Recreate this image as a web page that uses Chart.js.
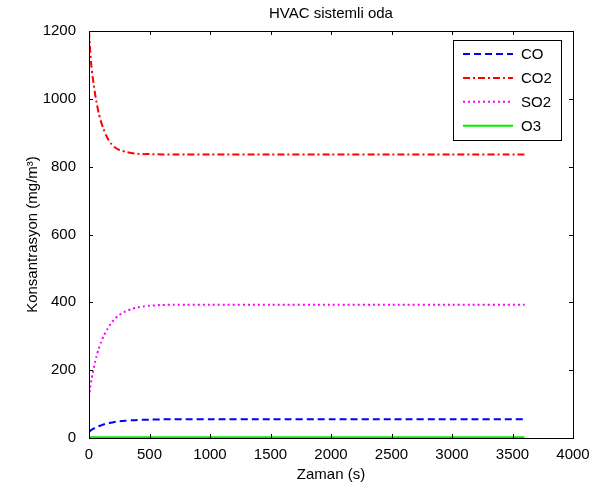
<!DOCTYPE html>
<html>
<head>
<meta charset="utf-8">
<script src="https://cdn.jsdelivr.net/npm/chart.js@4/dist/chart.umd.min.js"></script>
<style>
  html, body { margin: 0; padding: 0; background: #fff; }
  #wrap { width: 597px; height: 491px; }
</style>
</head>
<body>
<div id="wrap"><canvas id="hvac"></canvas></div>
<script>
// zaman (s)
const time = [0, 10, 20, 30, 40, 50, 60, 80, 100, 120, 150, 180, 210, 240, 270, 300, 350, 400, 450, 500, 600, 700, 800, 1000, 1500, 2000, 2500, 3000, 3600];

// konsantrasyonlar (mg/m3)
const co  = [18, 21, 24, 26, 28, 30, 32, 35, 37, 40, 43, 45, 47, 49, 50, 51, 52, 53, 54, 54, 55, 55, 55, 55, 55, 55, 55, 55, 55];
const co2 = [1200, 1140, 1095, 1065, 1040, 1015, 995, 958, 932, 911, 886, 869, 858, 851, 847, 844, 840, 838, 837, 837, 836, 836, 836, 836, 836, 836, 836, 836, 836];
const so2 = [120, 148, 170, 190, 207, 223, 238, 263, 283, 300, 320, 337, 350, 360, 367, 373, 380, 385, 388, 390, 392, 393, 393, 393, 393, 393, 393, 393, 393];
const o3  = [2, 2, 2, 2, 2, 2, 2, 2, 2, 2, 2, 2, 2, 2, 2, 2, 2, 2, 2, 2, 2, 2, 2, 2, 2, 2, 2, 2, 2];

const xTicks = [0, 500, 1000, 1500, 2000, 2500, 3000, 3500, 4000];
const yTicks = [0, 200, 400, 600, 800, 1000, 1200];

const toPoints = vals => time.map((t, i) => ({x: t, y: vals[i]}));

const series = [
  {label: "CO",  data: co,  color: "#0000ff", dash: [7, 4]},
  {label: "CO2", data: co2, color: "#ff0000", dash: [7, 3, 2, 3]},
  {label: "SO2", data: so2, color: "#ff00ff", dash: [2, 3]},
  {label: "O3",  data: o3,  color: "#00ee00", dash: []}
];

const FONT = "'Liberation Sans', Arial, sans-serif";

// kutu, iceri bakan tikler ve lejant
const matlabBox = {
  id: "matlabBox",
  afterDraw(chart) {
    const {ctx, chartArea: a, scales} = chart;
    ctx.save();
    ctx.strokeStyle = "#000";
    ctx.lineWidth = 1;
    ctx.strokeRect(a.left + 0.5, a.top + 0.5, a.right - a.left, a.bottom - a.top);
    ctx.beginPath();
    xTicks.forEach(v => {
      const px = Math.round(scales.x.getPixelForValue(v)) + 0.5;
      ctx.moveTo(px, a.bottom); ctx.lineTo(px, a.bottom - 4);
      ctx.moveTo(px, a.top); ctx.lineTo(px, a.top + 4);
    });
    yTicks.forEach(v => {
      const py = Math.round(scales.y.getPixelForValue(v)) + 0.5;
      ctx.moveTo(a.left, py); ctx.lineTo(a.left + 4, py);
      ctx.moveTo(a.right, py); ctx.lineTo(a.right - 4, py);
    });
    ctx.stroke();

    // lejant
    const lx = 453, ly = 40, lw = 108, lh = 100;
    ctx.fillStyle = "#fff";
    ctx.fillRect(lx, ly, lw, lh);
    ctx.strokeRect(lx + 0.5, ly + 0.5, lw, lh);
    ctx.font = "15px " + FONT;
    ctx.textBaseline = "middle";
    series.forEach((s, i) => {
      const y = ly + 14 + i * 23.9;
      ctx.beginPath();
      ctx.strokeStyle = s.color;
      ctx.lineWidth = 2;
      ctx.setLineDash(s.dash);
      ctx.moveTo(lx + 10, y); ctx.lineTo(lx + 60, y);
      ctx.stroke();
      ctx.setLineDash([]);
      ctx.fillStyle = "#000";
      ctx.fillText(s.label, lx + 68, y + 1);
    });
    ctx.restore();
  }
};

new Chart(document.getElementById("hvac"), {
  type: "line",
  data: {
    datasets: series.map(s => ({
      label: s.label,
      data: toPoints(s.data),
      borderColor: s.color,
      borderDash: s.dash,
      borderWidth: 2,
      pointRadius: 0,
      tension: 0.25,
      fill: false
    }))
  },
  options: {
    responsive: true,
    maintainAspectRatio: false,
    animation: false,
    layout: {padding: {left: 0, right: 24, top: 0, bottom: 0}},
    plugins: {
      legend: {display: false},
      tooltip: {enabled: false},
      title: {
        display: true,
        fullSize: false,
        text: "HVAC sistemli oda",
        color: "#000",
        font: {family: FONT, size: 15, weight: "normal", lineHeight: 1.2},
        padding: {top: 5, bottom: 8}
      }
    },
    scales: {
      x: {
        type: "linear",
        min: 0, max: 4000,
        afterBuildTicks: sc => { sc.ticks = xTicks.map(v => ({value: v})); },
        afterFit: sc => { sc.height = 53; },
        grid: {display: false},
        border: {display: false},
        ticks: {color: "#000", font: {family: FONT, size: 15}, padding: 0, maxRotation: 0, callback: v => String(v)},
        title: {display: true, text: "Zaman (s)", color: "#000", font: {family: FONT, size: 15}, padding: {top: 0, bottom: 7}}
      },
      y: {
        type: "linear",
        min: 0, max: 1200,
        afterBuildTicks: sc => { sc.ticks = yTicks.map(v => ({value: v})); },
        afterFit: sc => { sc.width = 89; },
        grid: {display: false},
        border: {display: false},
        ticks: {color: "#000", font: {family: FONT, size: 15}, padding: 5, callback: v => String(v)},
        title: {display: true, text: "Konsantrasyon (mg/m³)", color: "#000", font: {family: FONT, size: 15}, padding: {top: 24, bottom: 0}}
      }
    }
  },
  plugins: [matlabBox]
});
</script>
</body>
</html>
